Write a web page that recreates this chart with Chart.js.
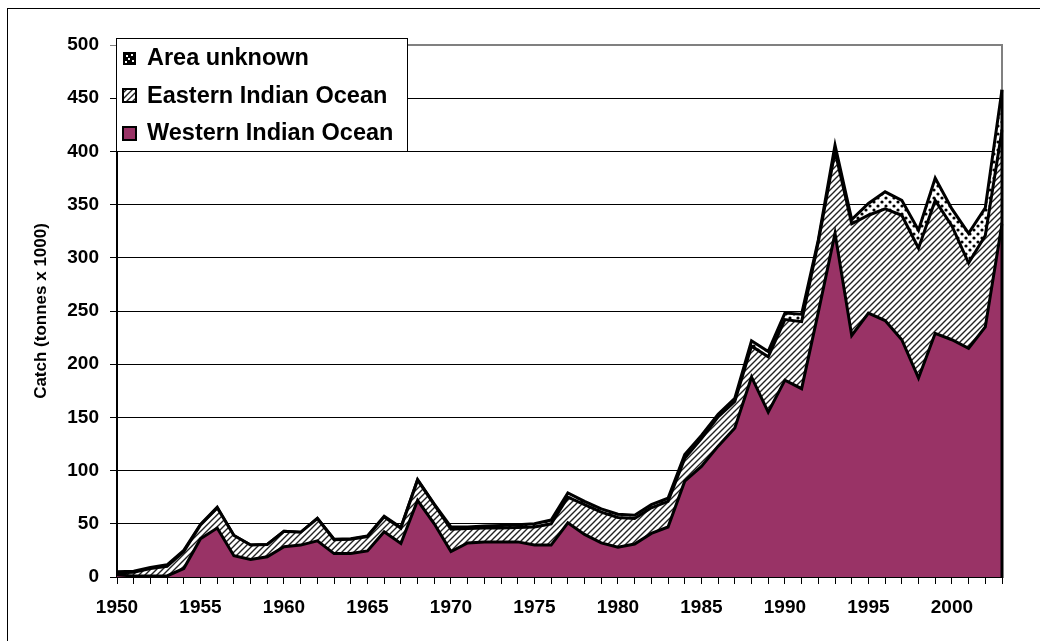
<!DOCTYPE html>
<html>
<head>
<meta charset="utf-8">
<script src="https://cdn.jsdelivr.net/npm/chart.js@4.4.1/dist/chart.umd.min.js"></script>
<style>
  html, body { margin: 0; padding: 0; background: #fff; }
  #wrap { position: relative; width: 1040px; height: 641px; overflow: hidden; }
  #frame { position: absolute; left: 7px; top: 8px; width: 1100px; height: 700px;
           border-left: 1px solid #000; border-top: 1px solid #000; pointer-events: none; }
  canvas { position: absolute; left: 0; top: 0; }
</style>
</head>
<body>
<div id="wrap">
  <canvas id="chart" width="1040" height="641"></canvas>
  <div id="frame"></div>
</div>
<script>
// Catch by area, thousands of tonnes, 1950-2003
const years = [1950,1951,1952,1953,1954,1955,1956,1957,1958,1959,
               1960,1961,1962,1963,1964,1965,1966,1967,1968,1969,
               1970,1971,1972,1973,1974,1975,1976,1977,1978,1979,
               1980,1981,1982,1983,1984,1985,1986,1987,1988,1989,
               1990,1991,1992,1993,1994,1995,1996,1997,1998,1999,
               2000,2001,2002,2003];
const labelledYears = [1950,1955,1960,1965,1970,1975,1980,1985,1990,1995,2000];

const westernIndianOcean = [2,1,1,1,8,36,46,20,16.5,19,
                            28.5,30,34,22,22,24.5,42.5,31.5,72,50,
                            24,32,33,33,33,30,30,51,40,32,
                            28,31,41,47,90,104,123,140,188,155,
                            185,177,249,323,227,248,241,223,187,229,
                            223,215,235,332];
const easternIndianOcean = [2,3.5,7,9,16,13,19,19,13.5,11.5,
                            14.5,12,21,13,13.5,13.5,14,14.5,19,18,
                            21,13.5,13,13,13.5,17,20,24,28,29,
                            28,24,24,24,21.5,26,27.5,25,29,52,
                            57,63,66,77,105,92,105,117,122,125,
                            107,80,86,88];
const areaUnknown = [1,1,1,1.5,1,0.5,0.5,0,0,0,
                     0,0,0,0.5,0.5,0.5,0.5,0.5,0.5,0.5,
                     2,1.5,2,2.5,2.5,3,3.5,4,3,3,
                     3,3,3,3,3.5,3,2.5,3,5,5,
                     6,7,2,6,4,11,16,14,17,21,
                     16,28,26,38];

const yTicks = { min: 0, max: 500, step: 50 };

const FONT = "'Liberation Sans', Arial, sans-serif";
const PLUM = '#993366';

// Fill patterns
function hatchPattern() {
  const s = 6;
  const c = document.createElement('canvas');
  c.width = s; c.height = s;
  const g = c.getContext('2d');
  g.fillStyle = '#fff'; g.fillRect(0, 0, s, s);
  g.strokeStyle = '#222'; g.lineWidth = 1.4;
  g.beginPath();
  g.moveTo(-1, s + 1); g.lineTo(s + 1, -1);
  g.moveTo(-2, 2); g.lineTo(2, -2);
  g.moveTo(s - 2, s + 2); g.lineTo(s + 2, s - 2);
  g.stroke();
  return g.createPattern(c, 'repeat');
}
function dotPattern() {
  const s = 8;
  const c = document.createElement('canvas');
  c.width = s; c.height = s;
  const g = c.getContext('2d');
  g.fillStyle = '#fff'; g.fillRect(0, 0, s, s);
  g.fillStyle = '#000';
  g.beginPath(); g.arc(2, 2, 1.6, 0, Math.PI * 2); g.fill();
  g.beginPath(); g.arc(6, 6, 1.6, 0, Math.PI * 2); g.fill();
  return g.createPattern(c, 'repeat');
}
const hatch = hatchPattern();
const dots = dotPattern();

const lineStyle = {
  borderColor: '#000', borderWidth: 3, pointRadius: 0, pointHoverRadius: 0,
  tension: 0, borderJoinStyle: 'miter', borderCapStyle: 'butt'
};

// Plot-area outline: grey top/right edge, black edge closing the stack at the last year
const plotFrame = {
  id: 'plotFrame',
  afterDatasetsDraw(chart) {
    const { ctx, chartArea: a, scales: { y } } = chart;
    ctx.save();
    ctx.strokeStyle = '#808080'; ctx.lineWidth = 2;
    ctx.beginPath();
    ctx.moveTo(a.left, a.top); ctx.lineTo(a.right, a.top); ctx.lineTo(a.right, a.bottom);
    ctx.stroke();
    const n = years.length - 1;
    const total = westernIndianOcean[n] + easternIndianOcean[n] + areaUnknown[n];
    ctx.strokeStyle = '#000'; ctx.lineWidth = 3;
    ctx.beginPath();
    ctx.moveTo(a.right, y.getPixelForValue(0) + 1);
    ctx.lineTo(a.right, y.getPixelForValue(total));
    ctx.stroke();
    ctx.restore();
  }
};

// Boxed legend in the upper-left corner of the plot
const boxLegend = {
  id: 'boxLegend',
  afterDatasetsDraw(chart) {
    const ctx = chart.ctx;
    const x0 = 116.5, y0 = 38.5, w = 291, h = 113;
    ctx.save();
    ctx.fillStyle = '#fff'; ctx.fillRect(x0, y0, w, h);
    ctx.strokeStyle = '#000'; ctx.lineWidth = 1; ctx.strokeRect(x0, y0, w, h);
    const order = [2, 1, 0];
    order.forEach((di, i) => {
      const ds = chart.data.datasets[di];
      const cy = 58 + i * 37.5;
      const mx = 123, my = Math.round(cy - 6.5), ms = 13;
      if (di === 2) {
        ctx.fillStyle = '#000'; ctx.fillRect(mx, my, ms, ms);
        ctx.fillStyle = '#fff';
        [[3,3],[8,2],[5,6],[2,9],[9,8]].forEach(([dx, dy]) => ctx.fillRect(mx + dx, my + dy, 2, 2));
      } else {
        ctx.fillStyle = ds.backgroundColor; ctx.fillRect(mx, my, ms, ms);
        ctx.strokeStyle = '#000'; ctx.lineWidth = 2; ctx.strokeRect(mx, my, ms, ms);
      }
      ctx.fillStyle = '#000';
      ctx.font = 'bold 23.5px ' + FONT;
      ctx.textBaseline = 'middle'; ctx.textAlign = 'left';
      ctx.fillText(ds.label, 147, cy + 1);
    });
    ctx.restore();
  }
};

new Chart(document.getElementById('chart'), {
  type: 'line',
  data: {
    labels: years,
    datasets: [
      { label: 'Western Indian Ocean', data: westernIndianOcean, backgroundColor: PLUM, fill: 'origin', ...lineStyle },
      { label: 'Eastern Indian Ocean', data: easternIndianOcean, backgroundColor: hatch, fill: '-1', ...lineStyle },
      { label: 'Area unknown', data: areaUnknown, backgroundColor: dots, fill: '-1', ...lineStyle }
    ]
  },
  options: {
    responsive: false,
    animation: false,
    devicePixelRatio: 1,
    layout: { padding: { left: 0, top: 45, right: 38, bottom: 0 } },
    plugins: { legend: { display: false }, tooltip: { enabled: false } },
    scales: {
      x: {
        type: 'category',
        offset: false,
        afterFit: s => { s.height = 64; },
        grid: { display: true, drawOnChartArea: false, drawTicks: true, tickLength: 7, color: '#000', lineWidth: 1 },
        border: { display: true, color: '#000', width: 2 },
        ticks: {
          autoSkip: false, maxRotation: 0, minRotation: 0, padding: 12, color: '#000',
          font: { family: FONT, size: 19, weight: 'bold' },
          callback: function (v, i) { const yr = years[i]; return labelledYears.includes(yr) ? String(yr) : ''; }
        }
      },
      y: {
        stacked: true,
        min: yTicks.min, max: yTicks.max,
        afterFit: s => { s.width = 117; },
        grid: {
          drawTicks: true, tickLength: 7, lineWidth: 1,
          color: ctx => (ctx.tick && ctx.tick.value === yTicks.max) ? '#808080' : '#000'
        },
        border: { display: true, color: '#000', width: 2 },
        ticks: {
          stepSize: yTicks.step, padding: 11, color: '#000',
          font: { family: FONT, size: 19, weight: 'bold' }
        },
        title: {
          display: true, text: 'Catch (tonnes x 1000)', color: '#000',
          font: { family: FONT, size: 17, weight: 'bold' },
          padding: { top: 31, bottom: 0 }
        }
      }
    }
  },
  plugins: [plotFrame, boxLegend]
});
</script>
</body>
</html>
